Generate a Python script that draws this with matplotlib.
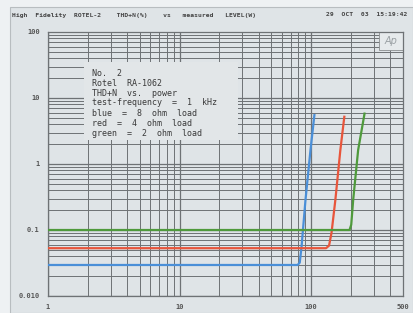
import numpy as np
import matplotlib
matplotlib.use("Agg")
import matplotlib.pyplot as plt
from matplotlib.patches import Rectangle

# Data: power in W, THD+N in %
blue_x = [1, 10, 50, 79, 82, 84.6, 90.7, 99, 106]
blue_y = [0.0295, 0.0295, 0.0295, 0.0295, 0.032, 0.055, 0.285, 1.63, 5.5]
red_x = [1, 10, 50, 130, 137, 143, 153, 167, 179]
red_y = [0.053, 0.053, 0.053, 0.053, 0.058, 0.09, 0.285, 1.63, 5.2]
green_x = [1, 10, 50, 196, 202, 209, 228, 255]
green_y = [0.1, 0.1, 0.1, 0.1, 0.12, 0.285, 1.63, 5.8]

x_ticks = [1, 10, 100, 500]
x_ticklabels = ["1", "10", "100", "500"]
y_ticks = [0.01, 0.1, 1, 10, 100]
y_ticklabels = ["0.010", "0.1", "1", "10", "100"]

header_left = "High  Fidelity  ROTEL-2    THD+N(%)    vs   measured   LEVEL(W)"
header_right = "29  OCT  03  15:19:42"
info_lines = ["No.  2", "Rotel  RA-1062", "THD+N  vs.  power",
              "test-frequency  =  1  kHz", "blue  =  8  ohm  load",
              "red  =  4  ohm  load", "green  =  2  ohm  load"]

W, H = 413, 313
fig = plt.figure(figsize=(W / 100, H / 100), dpi=100)
fig.patch.set_facecolor("#eef1f3")
# panel
fig.patches.append(Rectangle((10 / W, 0), 1 - 10 / W, 1 - 7 / H, transform=fig.transFigure,
                             facecolor="#dfe4e7", edgecolor="#b8bdc0", lw=0.8, zorder=-5))

L, R, T, B = 48, 403, 32, 296
ax = fig.add_axes([L / W, 1 - B / H, (R - L) / W, (B - T) / H])
ax.set_zorder(1)
ax.set_facecolor("#dfe4e7")
ax.set_xscale("log")
ax.set_yscale("log")
ax.set_xlim(1, 500)
ax.set_ylim(0.01, 100)

gc = "#6e7275"
for d in [1, 10, 100]:
    for m in range(1, 10):
        v = d * m
        if 1 <= v <= 500:
            ax.axvline(v, color=gc, lw=0.9 if m == 1 else 0.7, zorder=1)
for d in [0.01, 0.1, 1, 10]:
    for m in range(1, 10):
        ax.axhline(d * m, color=gc, lw=0.9 if m == 1 else 0.7, zorder=1)

# info box (in axes, covering grid)
bx0, by0 = 84, 62
bx1, by1 = 238, 140
ax.add_patch(Rectangle(((bx0 - L) / (R - L), 1 - (by1 - T) / (B - T)),
                       (bx1 - bx0) / (R - L), (by1 - by0) / (B - T),
                       transform=ax.transAxes, facecolor="#e2e6e8",
                       edgecolor="none", zorder=2))
# Ap logo box
ax.add_patch(Rectangle(((379 - L) / (R - L), 1 - (50 - T) / (B - T)),
                       (R - 379) / (R - L), (50 - T) / (B - T),
                       transform=ax.transAxes, facecolor="#e6eaec",
                       edgecolor="#8a8e90", lw=0.6, zorder=2))

ax.plot(blue_x, blue_y, color="#4a8fd8", lw=1.6, zorder=4, solid_joinstyle="round")
ax.plot(red_x, red_y, color="#e8553b", lw=1.6, zorder=4, solid_joinstyle="round")
ax.plot(green_x, green_y, color="#4f9a3c", lw=1.6, zorder=4, solid_joinstyle="round")

for s in ax.spines.values():
    s.set_color("#6e7275")
    s.set_linewidth(0.9)

ax.set_xticks(x_ticks)
ax.set_xticklabels(x_ticklabels)
ax.set_yticks(y_ticks)
ax.set_yticklabels(y_ticklabels)
ax.minorticks_off()
ax.tick_params(length=0, labelsize=5, colors="#555555", pad=6)
for lab in ax.get_xticklabels() + ax.get_yticklabels():
    lab.set_family("DejaVu Sans Mono")
    lab.set_fontweight("bold")

for i, line in enumerate(info_lines):
    fig.text(92 / W, 1 - (73 + 10 * i) / H, line, family="DejaVu Sans Mono",
             fontsize=6, color="#3a3a3a", va="center", ha="left", zorder=5)

fig.text(391 / W, 1 - 41 / H, "Ap", style="italic", fontsize=7, color="#9aa0a4",
         ha="center", va="center", zorder=5)

fig.text(12 / W, 1 - 15 / H, header_left, family="DejaVu Sans Mono", fontsize=4.6,
         fontweight="bold", color="#444444", va="center", ha="left")
fig.text(326 / W, 1 - 15 / H, header_right, family="DejaVu Sans Mono", fontsize=4.6,
         fontweight="bold", color="#444444", va="center", ha="left")

fig.savefig("out.png", dpi=100, facecolor=fig.get_facecolor())
